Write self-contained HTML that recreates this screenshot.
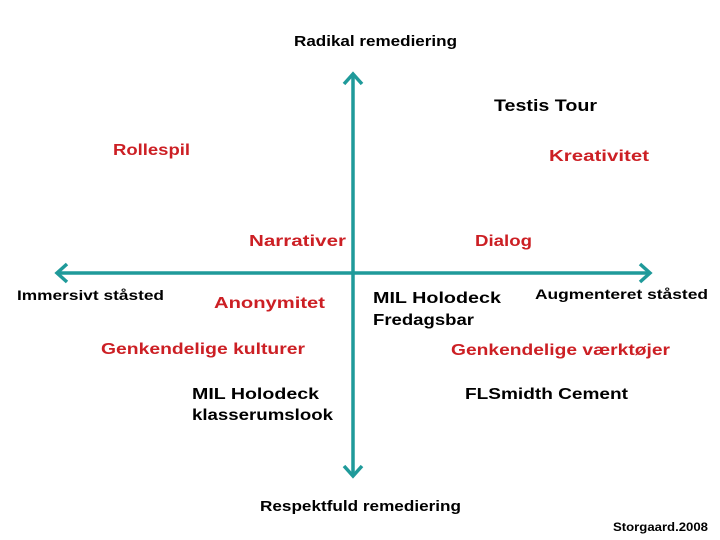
<!DOCTYPE html>
<html><head><meta charset="utf-8"><style>
html,body{margin:0;padding:0;background:#fff;}
svg{display:block;}
text{font-family:"Liberation Sans",sans-serif;font-weight:bold;}
.k{fill:#000;}
.r{fill:#cc1f24;}
</style></head><body>
<svg width="720" height="540" viewBox="0 0 720 540" xmlns="http://www.w3.org/2000/svg">
<g stroke="#1f9a9a" stroke-width="3.5" fill="none" stroke-linecap="butt">
<line x1="353" y1="74" x2="353" y2="476"/>
<line x1="57" y1="273" x2="650" y2="273"/>
<polyline points="344,84 353,74 362,84"/>
<polyline points="344,466 353,476 362,466"/>
<polyline points="67,264 57,273 67,282"/>
<polyline points="640,264 650,273 640,282"/>
</g>
<g font-size="15">
<text class="k" x="294" y="46" textLength="163" lengthAdjust="spacingAndGlyphs">Radikal remediering</text>
<text class="k" x="494" y="111" font-size="17" textLength="103" lengthAdjust="spacingAndGlyphs">Testis Tour</text>
<text class="r" x="113" y="155" font-size="16" textLength="77" lengthAdjust="spacingAndGlyphs">Rollespil</text>
<text class="r" x="549" y="161" font-size="16" textLength="100" lengthAdjust="spacingAndGlyphs">Kreativitet</text>
<text class="r" x="249" y="246" font-size="16" textLength="97" lengthAdjust="spacingAndGlyphs">Narrativer</text>
<text class="r" x="475" y="246" font-size="16" textLength="57" lengthAdjust="spacingAndGlyphs">Dialog</text>
<text class="k" x="17" y="300" font-size="14" textLength="147" lengthAdjust="spacingAndGlyphs">Immersivt ståsted</text>
<text class="k" x="535" y="299" font-size="14" textLength="173" lengthAdjust="spacingAndGlyphs">Augmenteret ståsted</text>
<text class="r" x="214" y="308" font-size="16" textLength="111" lengthAdjust="spacingAndGlyphs">Anonymitet</text>
<text class="k" x="373" y="303" font-size="16" textLength="128" lengthAdjust="spacingAndGlyphs">MIL Holodeck</text>
<text class="k" x="373" y="325" font-size="16" textLength="101" lengthAdjust="spacingAndGlyphs">Fredagsbar</text>
<text class="r" x="101" y="354" font-size="16" textLength="204" lengthAdjust="spacingAndGlyphs">Genkendelige kulturer</text>
<text class="r" x="451" y="355" font-size="16" textLength="219" lengthAdjust="spacingAndGlyphs">Genkendelige værktøjer</text>
<text class="k" x="192" y="399" font-size="16" textLength="127" lengthAdjust="spacingAndGlyphs">MIL Holodeck</text>
<text class="k" x="192" y="420" font-size="16" textLength="141" lengthAdjust="spacingAndGlyphs">klasserumslook</text>
<text class="k" x="465" y="399" font-size="16" textLength="163" lengthAdjust="spacingAndGlyphs">FLSmidth Cement</text>
<text class="k" x="260" y="511" textLength="201" lengthAdjust="spacingAndGlyphs">Respektfuld remediering</text>
<text class="k" x="613" y="531" font-size="12" textLength="95" lengthAdjust="spacingAndGlyphs">Storgaard.2008</text>
</g>
</svg>
</body></html>
